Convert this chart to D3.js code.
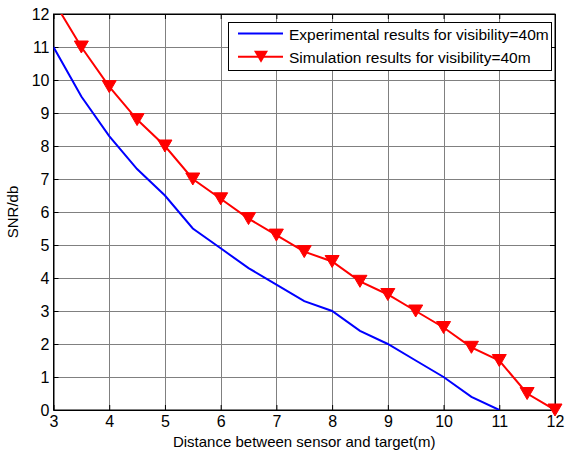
<!DOCTYPE html>
<html>
<head>
<meta charset="utf-8">
<script src="https://cdn.jsdelivr.net/npm/d3@7"></script>
<style>
  body { margin: 0; background: #fff; }
  text { font-family: Arial, "Liberation Sans", sans-serif; fill: #000; }
</style>
</head>
<body>
<svg id="chart" width="566" height="457"></svg>
<script>
// x positions (m)
var distances = [3, 3.5, 4, 4.5, 5, 5.5, 6, 6.5, 7, 7.5, 8, 8.5, 9, 9.5, 10, 10.5, 11, 11.5, 12];
// measured SNR, ends at 11 m
var experimental = [11, 9.5, 8.3, 7.3, 6.5, 5.5, 4.9, 4.3, 3.8, 3.3, 3.0, 2.4, 2.0, 1.5, 1.0, 0.4, 0];
// simulated SNR
var simulation = [12.4, 11, 9.8, 8.8, 8, 7, 6.4, 5.8, 5.3, 4.8, 4.5, 3.9, 3.5, 3, 2.5, 1.9, 1.5, 0.5, 0];
var xTicks = [3, 4, 5, 6, 7, 8, 9, 10, 11, 12];
var yTicks = [0, 1, 2, 3, 4, 5, 6, 7, 8, 9, 10, 11, 12];
var legendLabels = ['Experimental results for visibility=40m', 'Simulation results for visibility=40m'];

var svg = d3.select('#chart');
var margin = { left: 53.5, top: 14, right: 11, bottom: 47 };
var W = 566, H = 457;
var x = d3.scaleLinear().domain([3, 12]).range([margin.left, W - margin.right]);
var y = d3.scaleLinear().domain([0, 12]).range([H - margin.bottom, margin.top]);

svg.append('defs').append('clipPath').attr('id', 'plot-clip')
  .append('rect')
  .attr('x', x(3)).attr('y', y(12))
  .attr('width', x(12) - x(3)).attr('height', y(0) - y(12));

// grid
var grid = svg.append('g').attr('stroke', '#808080').attr('stroke-width', 1);
grid.selectAll('.gx').data(xTicks.slice(1, -1)).enter().append('line')
  .attr('x1', d => Math.round(x(d)) + 0.5).attr('x2', d => Math.round(x(d)) + 0.5)
  .attr('y1', y(0)).attr('y2', y(12));
grid.selectAll('.gy').data(yTicks.slice(1, -1)).enter().append('line')
  .attr('y1', d => Math.round(y(d)) + 0.5).attr('y2', d => Math.round(y(d)) + 0.5)
  .attr('x1', x(3)).attr('x2', x(12));

// axes with inward ticks
var fontSize = 16;
svg.append('g')
  .attr('transform', 'translate(0,' + y(0) + ')')
  .call(d3.axisBottom(x).tickValues(xTicks).tickSizeInner(-5).tickSizeOuter(0).tickPadding(6))
  .call(g => g.selectAll('text').style('font-size', fontSize + 'px'));
svg.append('g')
  .attr('transform', 'translate(0,' + y(12) + ')')
  .call(d3.axisTop(x).tickValues(xTicks).tickSizeInner(-5).tickSizeOuter(0).tickFormat(''));
svg.append('g')
  .attr('transform', 'translate(' + x(3) + ',0)')
  .call(d3.axisLeft(y).tickValues(yTicks).tickSizeInner(-5).tickSizeOuter(0).tickPadding(4))
  .call(g => g.selectAll('text').style('font-size', fontSize + 'px'));
svg.append('g')
  .attr('transform', 'translate(' + x(12) + ',0)')
  .call(d3.axisRight(y).tickValues(yTicks).tickSizeInner(-5).tickSizeOuter(0).tickFormat(''));
svg.selectAll('.domain').attr('stroke', '#000');
svg.selectAll('.tick line').attr('stroke', '#000');

// frame
svg.append('rect')
  .attr('x', x(3)).attr('y', y(12))
  .attr('width', x(12) - x(3)).attr('height', y(0) - y(12))
  .attr('fill', 'none').attr('stroke', '#000').attr('stroke-width', 1);

var line = d3.line().x(d => x(d[0])).y(d => y(d[1]));
var plot = svg.append('g').attr('clip-path', 'url(#plot-clip)');

var expPts = experimental.map((v, i) => [distances[i], v]);
var simPts = simulation.map((v, i) => [distances[i], v]);

plot.append('path').datum(expPts)
  .attr('d', line).attr('fill', 'none').attr('stroke', '#0000ff').attr('stroke-width', 2);
plot.append('path').datum(simPts)
  .attr('d', line).attr('fill', 'none').attr('stroke', '#ff0000').attr('stroke-width', 2);

var tri = 'M-7,-6L7,-6L0,6Z';
svg.selectAll('.mk').data(simPts.filter(d => d[1] <= 12)).enter().append('path')
  .attr('d', tri)
  .attr('transform', d => 'translate(' + x(d[0]) + ',' + y(d[1]) + ')')
  .attr('fill', '#ff0000').attr('stroke', '#ff0000').attr('stroke-width', 1);

// axis titles
svg.append('text')
  .attr('x', (x(3) + x(12)) / 2).attr('y', 447)
  .attr('text-anchor', 'middle').style('font-size', '15px')
  .text('Distance between sensor and target(m)');
svg.append('text')
  .attr('transform', 'translate(18,' + (y(0) + y(12)) / 2 + ') rotate(-90)')
  .attr('text-anchor', 'middle').style('font-size', '15px')
  .text('SNR/db');

// legend
var lg = svg.append('g');
lg.append('rect').attr('x', 228.5).attr('y', 22.5).attr('width', 323).attr('height', 48)
  .attr('fill', '#fff').attr('stroke', '#000').attr('stroke-width', 1);
var colors = ['#0000ff', '#ff0000'];
var rows = lg.selectAll('.row').data(legendLabels).enter().append('g')
  .attr('transform', (d, i) => 'translate(0,' + (33.5 + i * 23.3) + ')');
rows.append('line').attr('x1', 238).attr('x2', 283).attr('y1', 0).attr('y2', 0)
  .attr('stroke', (d, i) => colors[i]).attr('stroke-width', 2);
rows.filter((d, i) => i === 1).append('path')
  .attr('d', tri).attr('transform', 'translate(261,0)').attr('fill', '#ff0000');
rows.append('text').attr('x', 289).attr('y', 6.5).style('font-size', '15.5px').text(d => d);
</script>
</body>
</html>
